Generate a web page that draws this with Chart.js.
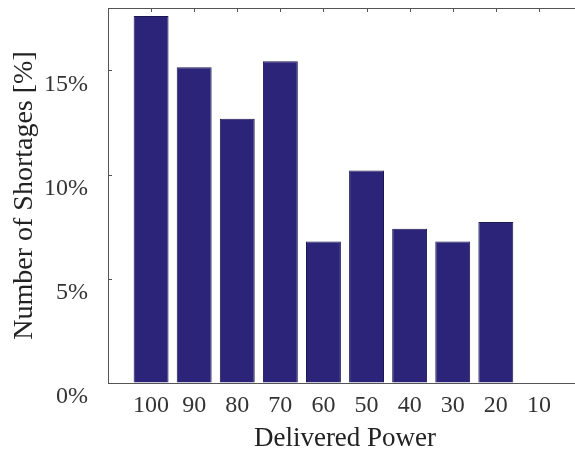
<!DOCTYPE html>
<html>
<head>
<meta charset="utf-8">
<script src="https://cdn.jsdelivr.net/npm/chart.js@4/dist/chart.umd.min.js"></script>
<style>
  html, body { margin: 0; padding: 0; background: #fff; overflow: hidden; }
  #wrap { width: 590px; height: 455px; }
</style>
</head>
<body>
<div id="wrap"><canvas id="shortChart" width="590" height="455"></canvas></div>
<script>
// 数据
const powerLevels = ['100', '90', '80', '70', '60', '50', '40', '30', '20', '10'];
const shortagePct = [17.62, 15.16, 12.68, 15.45, 6.79, 10.20, 7.40, 6.79, 7.73, 0];
const yTicks = [0, 5, 10, 15];

const axisColor = '#555555';
const serif = '"Liberation Serif", "DejaVu Serif", serif';

// 两端留一个空类别，让柱子和边框之间有间距
const labels = [''].concat(powerLevels, ['']);
const values = [null].concat(shortagePct, [null]);

// 画上边框和向内的刻度线
const frameTicks = {
    id: 'frameTicks',
    afterDatasetsDraw(chart) {
        const { ctx, chartArea, scales } = chart;
        ctx.save();
        ctx.strokeStyle = axisColor;
        ctx.lineWidth = 1;
        ctx.beginPath();
        ctx.moveTo(chartArea.left, chartArea.top + 0.5);
        ctx.lineTo(chartArea.right, chartArea.top + 0.5);
        // 上边的类别刻度
        for (let i = 1; i <= powerLevels.length; i++) {
            const x = Math.round(scales.x.getPixelForValue(i)) + 0.5;
            ctx.moveTo(x, chartArea.top);
            ctx.lineTo(x, chartArea.top + 4);
        }
        // 左边的数值刻度
        yTicks.forEach(v => {
            const y = Math.round(scales.y.getPixelForValue(v)) + 0.5;
            ctx.moveTo(chartArea.left, y);
            ctx.lineTo(chartArea.left + 4, y);
        });
        ctx.stroke();
        ctx.restore();
    }
};

new Chart(document.getElementById('shortChart').getContext('2d'), {
    type: 'bar',
    data: {
        labels: labels,
        datasets: [{
            data: values,
            backgroundColor: '#2c2478',
            borderColor: '#1c1752',
            borderWidth: 1,
            barPercentage: 0.81,
            categoryPercentage: 1.0
        }]
    },
    options: {
        responsive: false,
        animation: false,
        layout: { padding: { left: 0, top: 8, right: 2, bottom: 0 } },
        plugins: {
            legend: { display: false },
            tooltip: { enabled: false }
        },
        scales: {
            x: {
                type: 'category',
                offset: false,
                grid: { display: false, drawTicks: false },
                border: { display: true, color: axisColor, width: 1 },
                ticks: {
                    color: '#333',
                    font: { family: serif, size: 24 },
                    padding: 8,
                    maxRotation: 0,
                    autoSkip: false
                },
                title: {
                    display: true,
                    text: 'Delivered Power',
                    color: '#222',
                    font: { family: serif, size: 27 },
                    padding: { top: 2, bottom: 0 }
                },
                afterFit(scale) { scale.height = 72; }
            },
            y: {
                min: 0,
                max: 18,
                afterBuildTicks(scale) {
                    scale.ticks = yTicks.map(v => ({ value: v }));
                },
                // 透明的刻度线只用来留出标签和轴之间的空隙
                grid: {
                    display: true,
                    drawOnChartArea: false,
                    drawTicks: true,
                    tickLength: 20,
                    tickColor: 'rgba(0,0,0,0)'
                },
                border: { display: true, color: axisColor, width: 1 },
                ticks: {
                    color: '#333',
                    font: { family: serif, size: 24, lineHeight: 0.6 },
                    padding: 0,
                    labelOffset: 14,
                    callback: v => v + '%'
                },
                title: {
                    display: true,
                    text: 'Number of Shortages [%]',
                    color: '#222',
                    font: { family: serif, size: 28 },
                    padding: { top: 8, bottom: 0 }
                },
                afterFit(scale) { scale.width = 108; }
            }
        }
    },
    plugins: [frameTicks]
});
</script>
</body>
</html>
